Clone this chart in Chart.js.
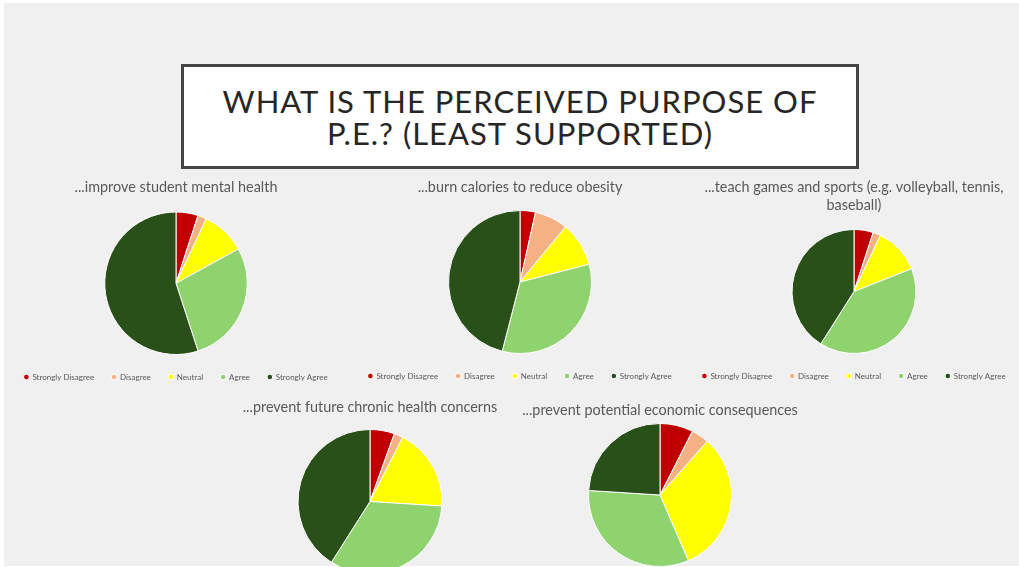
<!DOCTYPE html>
<html>
<head>
<meta charset="utf-8">
<script src="https://cdn.jsdelivr.net/npm/chart.js@4/dist/chart.umd.min.js"></script>
<style>
  html, body { margin:0; padding:0; width:1019px; height:567px; overflow:hidden; background:#ffffff; }
  #slide { position:absolute; left:4px; top:3px; width:1015px; height:563px; background:#f0f0f0; }
  #titlebox { position:absolute; left:181px; top:64px; width:678px; height:105px; box-sizing:border-box;
    border:3px solid #454545; background:#ffffff; display:flex; align-items:center; justify-content:center;
    text-align:center; font-family:Lato, "Noto Sans", sans-serif; font-size:31px; letter-spacing:1px;
    line-height:32px; color:#262626; }
  canvas { position:absolute; }
</style>
</head>
<body>
<div id="slide"></div>
<div id="titlebox"><div>WHAT IS THE PERCEIVED PURPOSE OF<br>P.E.? (LEAST SUPPORTED)</div></div>
<canvas id="c1" width="340" height="221" style="left:6px;top:170px"></canvas>
<canvas id="c2" width="340" height="220" style="left:350px;top:170px"></canvas>
<canvas id="c3" width="340" height="220" style="left:684px;top:170px"></canvas>
<canvas id="c4" width="340" height="184" style="left:200px;top:390px"></canvas>
<canvas id="c5" width="330" height="175" style="left:495px;top:392px"></canvas>
<script>
// ---- data ----
const responseLabels = ['Strongly Disagree', 'Disagree', 'Neutral', 'Agree', 'Strongly Agree'];
const mentalHealth   = [5, 2, 10, 28, 55];
const burnCalories   = [3.5, 7.5, 10, 33, 46];
const teachGames     = [5, 2, 12, 40, 41];
const chronicHealth  = [5.5, 2, 18.5, 33, 41];
const economicConseq = [7.5, 4, 32, 32.5, 24];
const chartTitles = [
  '...improve student mental health',
  '...burn calories to reduce obesity',
  ['...teach games and sports (e.g. volleyball, tennis,', 'baseball)'],
  '...prevent future chronic health concerns',
  '...prevent potential economic consequences'
];
const sliceColors = ['#c00000', '#f4b183', '#ffff00', '#8fd36f', '#285018'];

function makePie(id, values, title, titlePad, legendPad) {
  new Chart(document.getElementById(id), {
    type: 'pie',
    data: {
      labels: responseLabels,
      datasets: [{ data: values, backgroundColor: sliceColors, borderColor: '#ffffff', borderWidth: 1 }]
    },
    options: {
      responsive: false,
      animation: false,
      devicePixelRatio: 1,
      layout: { padding: 0 },
      plugins: {
        tooltip: { enabled: false },
        title: {
          display: true, text: title, color: '#595959',
          font: { family: 'Lato', size: 14.4, weight: 'normal', lineHeight: '18px' },
          padding: titlePad
        },
        legend: {
          display: legendPad !== null, position: 'bottom',
          labels: {
            usePointStyle: true, pointStyle: 'circle', boxWidth: 4, boxHeight: 4,
            padding: legendPad || 10, color: '#595959',
            font: { family: 'Lato', size: 8 }
          }
        }
      }
    }
  });
}

makePie('c1', mentalHealth,   chartTitles[0], { top: 8, bottom: 15.5 }, 18);
makePie('c2', burnCalories,   chartTitles[1], { top: 8, bottom: 14 }, 18);
makePie('c3', teachGames,     chartTitles[2], { top: 8, bottom: 15 }, 18);
makePie('c4', chronicHealth,  chartTitles[3], { top: 8, bottom: 13 }, null);
makePie('c5', economicConseq, chartTitles[4], { top: 9, bottom: 4 }, null);
</script>
</body>
</html>
